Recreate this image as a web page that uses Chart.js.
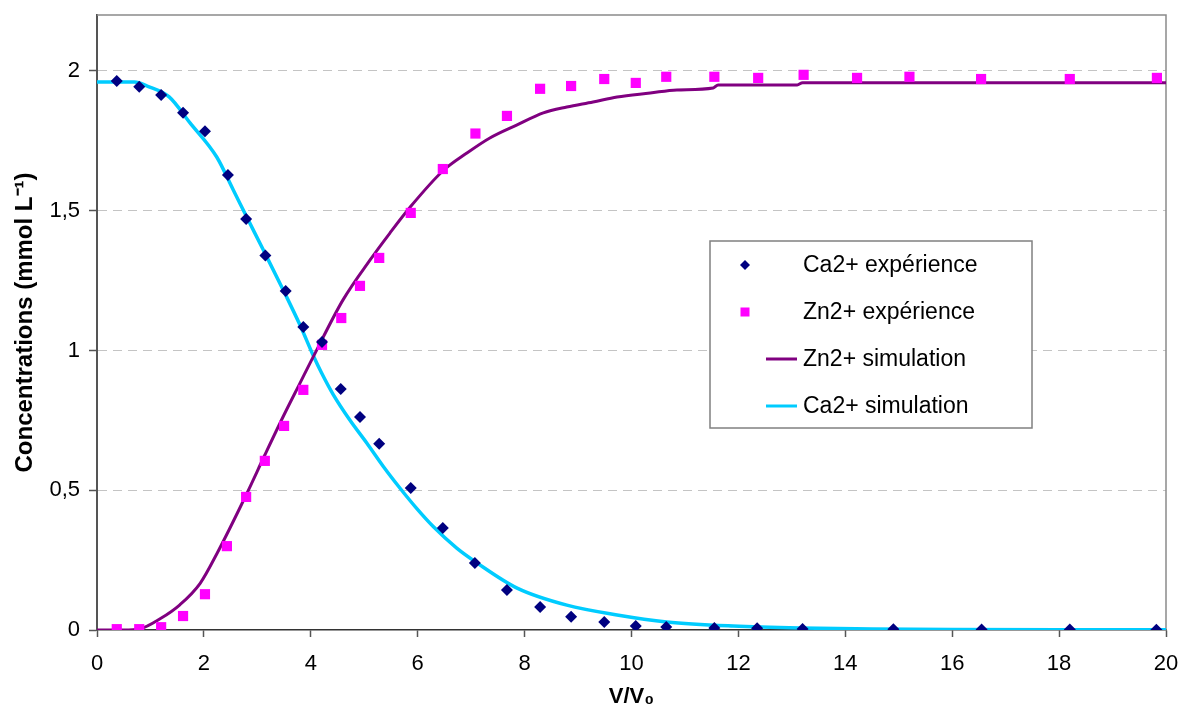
<!DOCTYPE html>
<html lang="fr">
<head>
<meta charset="UTF-8">
<title>Concentrations Ca2+ / Zn2+</title>
<script src="https://cdn.jsdelivr.net/npm/chart.js"></script>
<style>
  html, body { margin: 0; padding: 0; background: #fff; }
  #wrap { width: 1183px; height: 713px; position: relative; }
</style>
</head>
<body>
<div id="wrap"><canvas id="chart"></canvas></div>
<script>
// experimental points
const caExpX = [0.37, 0.79, 1.20, 1.61, 2.02, 2.45, 2.79, 3.15, 3.53, 3.86, 4.21, 4.56, 4.92, 5.28, 5.87, 6.47, 7.07, 7.67, 8.29, 8.87, 9.49, 10.08, 10.65, 11.55, 12.35, 13.2, 14.9, 16.55, 18.2, 19.82];
const caExpY = [1.964, 1.943, 1.914, 1.85, 1.784, 1.628, 1.47, 1.34, 1.213, 1.084, 1.03, 0.862, 0.762, 0.666, 0.508, 0.365, 0.24, 0.143, 0.082, 0.047, 0.029, 0.014, 0.011, 0.007, 0.006, 0.004, 0.003, 0.002, 0.002, 0.001];
const znExpX = [0.37, 0.79, 1.20, 1.61, 2.02, 2.43, 2.79, 3.14, 3.50, 3.86, 4.21, 4.57, 4.92, 5.28, 5.87, 6.47, 7.08, 7.67, 8.29, 8.87, 9.49, 10.08, 10.65, 11.55, 12.37, 13.22, 14.22, 15.2, 16.54, 18.2, 19.83];
const znExpY = [0.003, 0.003, 0.01, 0.05, 0.128, 0.30, 0.476, 0.605, 0.73, 0.859, 1.02, 1.116, 1.231, 1.331, 1.492, 1.649, 1.776, 1.839, 1.936, 1.946, 1.971, 1.957, 1.979, 1.979, 1.975, 1.986, 1.975, 1.979, 1.971, 1.971, 1.975];

// simulation curves
const znSimX = [0, 0.5, 0.8, 1.18, 1.55, 1.93, 2.24, 2.79, 3.14, 3.5, 3.8, 4.04, 4.6, 5.11, 5.48, 5.86, 6.47, 6.92, 7.35, 7.86, 8.35, 8.79, 9.28, 9.73, 10.35, 10.85, 11.53, 11.62, 13.1, 13.2, 20];
const znSimY = [0, 0, 0.004, 0.04, 0.09, 0.167, 0.272, 0.483, 0.626, 0.77, 0.884, 0.975, 1.18, 1.324, 1.42, 1.513, 1.642, 1.706, 1.76, 1.807, 1.85, 1.871, 1.889, 1.907, 1.921, 1.932, 1.939, 1.95, 1.95, 1.958, 1.958];
const caSimX = [0, 0.5, 0.7, 0.95, 1.35, 1.74, 2.24, 2.55, 2.8, 3.11, 3.5, 3.8, 4.05, 4.2, 4.42, 4.73, 5.05, 5.36, 5.67, 5.98, 6.29, 6.73, 7.11, 7.86, 8.79, 9.73, 10.66, 11.9, 13.15, 14.5, 16, 18, 20];
const caSimY = [1.96, 1.96, 1.96, 1.945, 1.907, 1.814, 1.692, 1.574, 1.478, 1.36, 1.21, 1.09, 0.98, 0.92, 0.842, 0.751, 0.668, 0.584, 0.507, 0.435, 0.37, 0.293, 0.24, 0.150, 0.089, 0.054, 0.029, 0.014, 0.007, 0.004, 0.002, 0.001, 0.001];

const xTicks = [0, 2, 4, 6, 8, 10, 12, 14, 16, 18, 20];
const yTicks = [0, 0.5, 1, 1.5, 2];

const FONT = '"Liberation Sans", Arial, sans-serif';
const pts = (xs, ys) => xs.map((x, i) => ({ x: x, y: ys[i] }));

// grey frame on top and right of the plot area
const frame = {
    id: 'frame',
    beforeDatasetsDraw(chart) {
        const { ctx, chartArea: a } = chart;
        ctx.save();
        ctx.strokeStyle = '#8a8a8a';
        ctx.lineWidth = 1.5;
        ctx.beginPath();
        ctx.moveTo(a.left, a.top);
        ctx.lineTo(a.right, a.top);
        ctx.lineTo(a.right, a.bottom);
        ctx.stroke();
        ctx.restore();
    }
};

// boxed legend inside the plot
const legendBox = {
    id: 'legendBox',
    afterDatasetsDraw(chart) {
        const ctx = chart.ctx;
        const x0 = 710, y0 = 241, w = 322, h = 187;
        ctx.save();
        ctx.fillStyle = '#fff';
        ctx.fillRect(x0, y0, w, h);
        ctx.strokeStyle = '#808080';
        ctx.lineWidth = 1.5;
        ctx.strokeRect(x0, y0, w, h);
        ctx.font = '23px ' + FONT;
        ctx.textBaseline = 'middle';
        chart.data.datasets.forEach((ds, i) => {
            const y = y0 + 24 + i * 47;
            const cx = x0 + 35;
            if (ds.showLine) {
                ctx.strokeStyle = ds.borderColor;
                ctx.lineWidth = 3;
                ctx.beginPath();
                ctx.moveTo(x0 + 56, y);
                ctx.lineTo(x0 + 87, y);
                ctx.stroke();
            } else if (ds.pointStyle === 'rectRot') {
                ctx.fillStyle = ds.backgroundColor;
                ctx.beginPath();
                ctx.moveTo(cx, y - 5);
                ctx.lineTo(cx + 5, y);
                ctx.lineTo(cx, y + 5);
                ctx.lineTo(cx - 5, y);
                ctx.closePath();
                ctx.fill();
            } else {
                ctx.fillStyle = ds.backgroundColor;
                ctx.fillRect(cx - 4.5, y - 4.5, 9, 9);
            }
            ctx.fillStyle = '#000';
            ctx.fillText(ds.label, x0 + 93, y + 1);
        });
        ctx.restore();
    }
};

new Chart(document.getElementById('chart'), {
    type: 'scatter',
    data: {
        datasets: [
            {
                label: 'Ca2+ expérience',
                data: pts(caExpX, caExpY),
                pointStyle: 'rectRot',
                pointRadius: 6,
                backgroundColor: '#000080',
                borderColor: '#000080',
                borderWidth: 0
            },
            {
                label: 'Zn2+ expérience',
                data: pts(znExpX, znExpY),
                pointStyle: 'rect',
                pointRadius: 7.2,
                backgroundColor: '#ff00ff',
                borderColor: '#ff00ff',
                borderWidth: 0
            },
            {
                label: 'Zn2+ simulation',
                data: pts(znSimX, znSimY),
                showLine: true,
                pointRadius: 0,
                borderColor: '#800080',
                backgroundColor: '#800080',
                borderWidth: 3,
                cubicInterpolationMode: 'monotone'
            },
            {
                label: 'Ca2+ simulation',
                data: pts(caSimX, caSimY),
                showLine: true,
                pointRadius: 0,
                borderColor: '#00ccff',
                backgroundColor: '#00ccff',
                borderWidth: 3.5,
                cubicInterpolationMode: 'monotone'
            }
        ]
    },
    options: {
        responsive: true,
        maintainAspectRatio: false,
        animation: false,
        layout: { padding: { top: 15, right: 17, left: 0, bottom: 0 } },
        plugins: {
            legend: { display: false },
            tooltip: { enabled: false }
        },
        scales: {
            x: {
                type: 'linear',
                min: 0,
                max: 20,
                afterBuildTicks: s => { s.ticks = xTicks.map(v => ({ value: v })); },
                afterFit: s => { s.height = 83; s.paddingLeft = 0; s.paddingRight = 0; },
                border: { color: '#333', width: 1.5 },
                grid: { drawOnChartArea: false, drawTicks: true, tickLength: 7, tickColor: '#555', tickWidth: 1.5 },
                ticks: { color: '#000', font: { family: FONT, size: 22 }, padding: 14, maxRotation: 0 },
                title: {
                    display: true,
                    text: 'V/V₀',
                    color: '#000',
                    font: { family: FONT, size: 22, weight: 'bold' },
                    padding: { top: 0, bottom: 3 }
                }
            },
            y: {
                type: 'linear',
                min: 0,
                max: 2.2,
                afterBuildTicks: s => { s.ticks = yTicks.map(v => ({ value: v })); },
                afterFit: s => { s.width = 97; s.paddingTop = 0; s.paddingBottom = 0; },
                border: { color: '#555', width: 2, dash: [9, 6] },
                grid: {
                    color: c => c.tick && c.tick.value === 0 ? 'rgba(0,0,0,0)' : '#c4c4c4',
                    lineWidth: 1,
                    tickLength: 8,
                    tickColor: '#555',
                    tickWidth: 1.5,
                    tickBorderDash: []
                },
                ticks: {
                    color: '#000',
                    font: { family: FONT, size: 22 },
                    padding: 9,
                    callback: v => String(v).replace('.', ',')
                },
                title: {
                    display: true,
                    text: 'Concentrations (mmol L⁻¹)',
                    color: '#000',
                    font: { family: FONT, size: 24, weight: 'bold' },
                    padding: { top: 11, bottom: 0 }
                }
            }
        }
    },
    plugins: [frame, legendBox]
});
</script>
</body>
</html>
